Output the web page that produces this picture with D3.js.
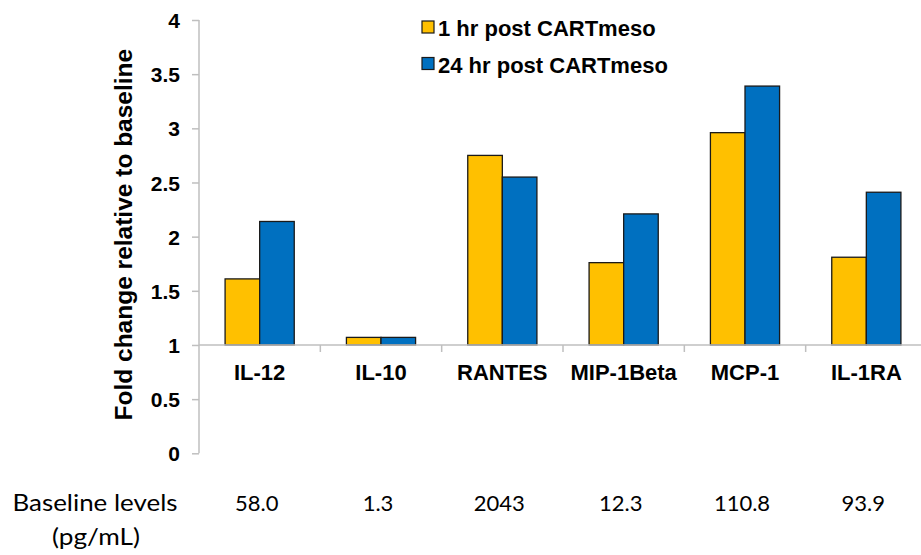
<!DOCTYPE html>
<html>
<head>
<meta charset="utf-8">
<script src="https://cdn.jsdelivr.net/npm/d3@7"></script>
<style>
  body { margin: 0; background: #fff; }
  svg { display: block; font-family: "Liberation Sans", Arial, sans-serif; }
</style>
</head>
<body>
<svg id="chart" width="921" height="555"></svg>
<script>
// chart data
const categories = ["IL-12", "IL-10", "RANTES", "MIP-1Beta", "MCP-1", "IL-1RA"];
const hr1 = [1.61, 1.07, 2.75, 1.76, 2.96, 1.81];
const hr24 = [2.14, 1.07, 2.55, 2.21, 3.39, 2.41];
const baselineLevels = ["58.0", "1.3", "2043", "12.3", "110.8", "93.9"];
const seriesNames = ["1 hr post CARTmeso", "24 hr post CARTmeso"];
const yTicks = [0, 0.5, 1, 1.5, 2, 2.5, 3, 3.5, 4];

const colors = ["#FFC000", "#0070C0"];
const axisColor = "#BFBFBF";

const svg = d3.select("#chart");

// Scales
const x0 = d3.scaleBand()
    .domain(categories)
    .range([199, 927])
    .paddingInner(0.43)
    .paddingOuter(0.215);

const x1 = d3.scaleBand()
    .domain([0, 1])
    .range([0, x0.bandwidth()]);

const y = d3.scaleLinear()
    .domain([0, 4])
    .range([453.3, 20]);

const rows = categories.map((c, i) => ({ cat: c, vals: [hr1[i], hr24[i]], base: baselineLevels[i] }));

// Y axis
const yAxis = svg.append("g")
    .attr("transform", "translate(199,0)")
    .call(d3.axisLeft(y).tickValues(yTicks).tickSize(7).tickPadding(12).tickFormat(d3.format("")));
yAxis.select(".domain").attr("stroke", axisColor).attr("stroke-width", 1.5)
    .attr("d", "M0," + y(4) + "V" + y(0));
yAxis.selectAll(".tick line").attr("stroke", axisColor).attr("stroke-width", 1.5);
yAxis.selectAll(".tick text")
    .attr("fill", "#000")
    .style("font-size", "21px")
    .style("font-weight", "bold")
    .attr("dy", "0.36em");

// Y label
svg.append("text")
    .attr("transform", "rotate(-90)")
    .attr("x", -(y(0) + y(4)) / 2 + 2)
    .attr("y", 132)
    .attr("text-anchor", "middle")
    .style("font-size", "24.5px")
    .style("font-weight", "bold")
    .text("Fold change relative to baseline");

// Bars (drawn from 1, where the category axis crosses)
const groups = svg.selectAll(".grp")
    .data(rows)
    .enter().append("g")
    .attr("class", "grp")
    .attr("transform", d => "translate(" + x0(d.cat) + ",0)");

groups.selectAll("rect")
    .data(d => d.vals.map((v, k) => ({ v: v, k: k })))
    .enter().append("rect")
    .attr("x", d => x1(d.k))
    .attr("width", x1.bandwidth())
    .attr("y", d => y(d.v))
    .attr("height", d => y(1) - y(d.v))
    .attr("fill", d => colors[d.k])
    .attr("stroke", "#1a1a1a")
    .attr("stroke-width", 1.3);

// Category axis at y = 1
const xAxis = svg.append("g")
    .attr("transform", "translate(0," + y(1) + ")");
xAxis.append("line")
    .attr("x1", 199).attr("x2", 927)
    .attr("stroke", axisColor).attr("stroke-width", 1.5);
xAxis.selectAll(".ctick")
    .data(categories.slice(1))
    .enter().append("line")
    .attr("class", "ctick")
    .attr("x1", d => x0(d) - x0.step() * x0.paddingInner() / 2)
    .attr("x2", d => x0(d) - x0.step() * x0.paddingInner() / 2)
    .attr("y1", 0).attr("y2", 7)
    .attr("stroke", axisColor).attr("stroke-width", 1.5);
xAxis.selectAll(".clabel")
    .data(categories)
    .enter().append("text")
    .attr("class", "clabel")
    .attr("x", d => x0(d) + x0.bandwidth() / 2)
    .attr("y", 35)
    .attr("text-anchor", "middle")
    .style("font-size", "22px")
    .style("font-weight", "bold")
    .text(d => d);

// Legend
const legend = svg.append("g").attr("transform", "translate(422,21)");
seriesNames.forEach((name, k) => {
    const g = legend.append("g").attr("transform", "translate(0," + (k * 36.5) + ")");
    g.append("rect")
        .attr("width", 12).attr("height", 12)
        .attr("fill", colors[k])
        .attr("stroke", "#1a1a1a").attr("stroke-width", 1.2);
    g.append("text")
        .attr("x", 16).attr("y", 15)
        .style("font-size", "22px")
        .style("font-weight", "bold")
        .text(name);
});

// Baseline levels row
const baseFont = "Lato, 'Open Sans', sans-serif";
svg.append("text")
    .attr("x", 95).attr("y", 511)
    .attr("text-anchor", "middle")
    .style("font-family", baseFont)
    .style("font-size", "24px")
    .attr("textLength", 165)
    .attr("lengthAdjust", "spacingAndGlyphs")
    .text("Baseline levels");
svg.append("text")
    .attr("x", 96).attr("y", 545)
    .attr("text-anchor", "middle")
    .style("font-family", baseFont)
    .style("font-size", "24px")
    .attr("textLength", 88)
    .attr("lengthAdjust", "spacingAndGlyphs")
    .text("(pg/mL)");
svg.selectAll(".base")
    .data(rows)
    .enter().append("text")
    .attr("class", "base")
    .attr("x", d => x0(d.cat) + x0.bandwidth() / 2 - 3)
    .attr("y", 511)
    .attr("text-anchor", "middle")
    .style("font-family", baseFont)
    .style("font-size", "22px")
    .text(d => d.base);
</script>
</body>
</html>
